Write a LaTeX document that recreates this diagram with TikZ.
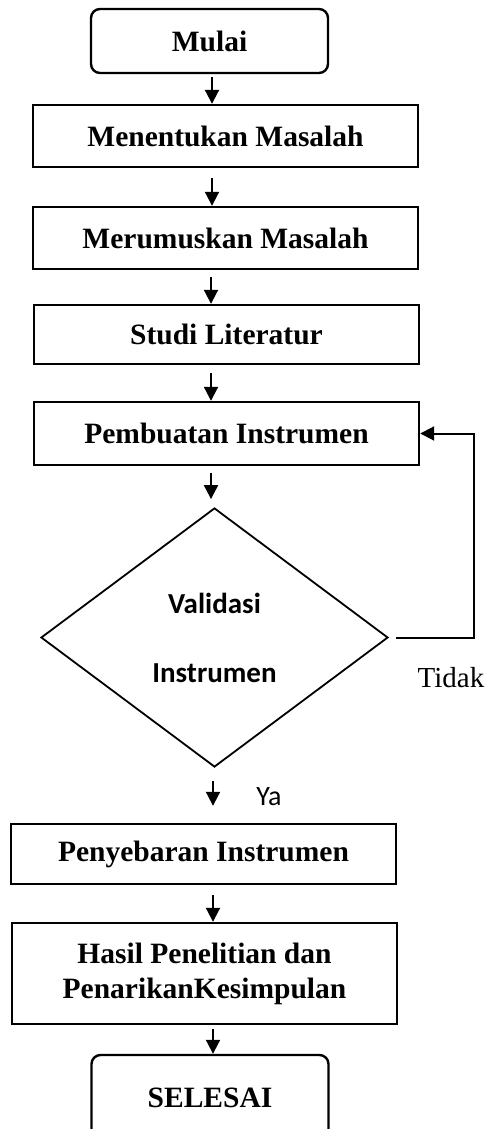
\documentclass[tikz,border=0pt]{standalone}
\usepackage{fontspec}
\setmainfont{Liberation Serif}
\newfontfamily\carl{Carlito}
\usetikzlibrary{shapes.geometric,arrows.meta}
\tikzset{
  box/.style={draw,line width=2.4pt,rectangle,minimum width=385pt,inner sep=0pt,font=\fontsize{29.5}{35}\selectfont\bfseries,align=center},
  term/.style={box,rounded corners=9pt,minimum width=237pt},
  arr/.style={line width=2pt,-{Triangle[width=14pt,length=14pt]}},
}
\begin{document}
\begin{tikzpicture}[x=1pt,y=-1pt]
\useasboundingbox (0,0) rectangle (487,1129);
\clip (0,0) rectangle (487,1129);
\node[term,minimum height=64pt] (mulai) at (209.5,41) {Mulai};
\node[box,minimum height=62pt] (menentukan) at (225.5,136) {Menentukan Masalah};
\node[box,minimum height=62pt] (merumuskan) at (225.5,238) {Merumuskan Masalah};
\node[box,minimum height=59pt] (studi) at (226.5,334.5) {Studi Literatur};
\node[box,minimum height=63pt] (pemb) at (226.5,433.5) {Pembuatan Instrumen};
\node[draw,diamond,line width=1.8pt,minimum width=347pt,minimum height=259pt,inner sep=0pt,align=center,
  font=\carl\fontsize{29}{35}\selectfont\bfseries] (valid) at (214.5,637.5) {Validasi\\[34pt]Instrumen};
\node[font=\fontsize{29}{35}\selectfont] (tidak) at (451,678) {Tidak};
\node[font=\carl\fontsize{28}{34}\selectfont] (ya) at (269,797) {Ya};
\node[box,minimum height=60pt] (penyebaran) at (203.5,854) {Penyebaran Instrumen};
\node[box,minimum height=101pt] (hasil) at (204.5,973.5) {Hasil Penelitian dan\\PenarikanKesimpulan};
\node[term,minimum height=85pt] (selesai) at (210,1097.5) {SELESAI};

\draw[arr] ([xshift=2.5pt,yshift=-3pt]mulai.south) -- ([xshift=2.5pt]mulai.south |- menentukan.north);
\draw[arr] ([xshift=-13.5pt,yshift=-10pt]menentukan.south) -- ([xshift=-13.5pt]menentukan.south |- merumuskan.north);
\draw[arr] ([xshift=-14.5pt,yshift=-7pt]merumuskan.south) -- ([xshift=-14.5pt]merumuskan.south |- studi.north);
\draw[arr] ([xshift=-15.5pt,yshift=-8pt]studi.south) -- ([xshift=-15.5pt]studi.south |- pemb.north);
\draw[arr] ([xshift=-15.5pt,yshift=-7pt]pemb.south) -- ([xshift=-15.5pt,yshift=8pt]pemb.south |- valid.north);
\draw[arr] ([xshift=7pt]valid.east) -- ++(78,0) |- (pemb.east);
\draw[arr] ([xshift=-1.5pt,yshift=-13pt]valid.south) -- ([xshift=-1.5pt,yshift=17pt]valid.south |- penyebaran.north);
\draw[arr] ([xshift=9.5pt,yshift=-10pt]penyebaran.south) -- ([xshift=9.5pt]penyebaran.south |- hasil.north);
\draw[arr] ([xshift=8.5pt,yshift=-4pt]hasil.south) -- ([xshift=8.5pt]hasil.south |- selesai.north);
\end{tikzpicture}
\end{document}
